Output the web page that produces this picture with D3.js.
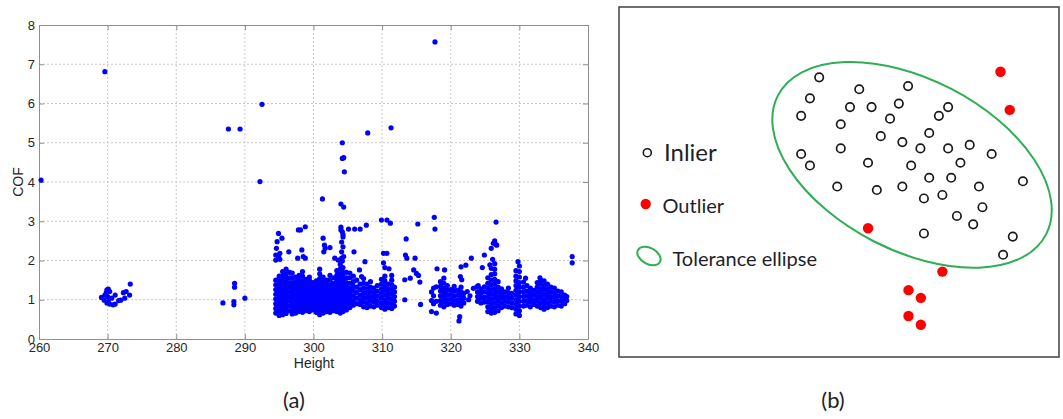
<!DOCTYPE html>
<html>
<head>
<meta charset="utf-8">
<script src="https://cdn.jsdelivr.net/npm/d3@7"></script>
<style>
  body { margin: 0; background: #fff; }
  svg { display: block; }
</style>
</head>
<body>
<svg id="chart" width="1063" height="419"></svg>
<script>
// ---------------- DATA ----------------
const xTicks = [260, 270, 280, 290, 300, 310, 320, 330, 340];
const yTicks = [0, 1, 2, 3, 4, 5, 6, 7, 8];
const xLabel = "Height";
const yLabel = "COF";

// isolated / sparse (Height, COF) readings
const sparsePoints = [
  [260.3,4.05],[269.6,6.81],[287.6,5.35],[289.3,5.35],[292.5,5.98],[292.2,4.01],
  [317.7,7.57],[311.3,5.38],[307.9,5.25],[304.2,5.0],[304.4,4.62],[304.2,4.6],[304.5,4.26],
  [301.3,3.57],[304.0,3.44],[304.4,3.36],
  [269.1,1.06],[269.6,1.12],[269.9,1.25],[270.1,1.27],[270.3,1.21],[269.8,1.18],[269.5,0.99],
  [270.1,0.95],[270.3,0.89],[270.8,0.87],[270.6,1.04],[271.1,1.12],[271.6,0.98],[271.1,0.89],
  [271.9,0.99],[272.3,1.18],[272.7,1.21],[272.5,1.04],[273.2,1.12],[273.3,1.40],[270.0,1.08],[269.9,0.92],
  [286.8,0.92],[288.5,1.42],[288.5,1.32],[288.4,0.95],[288.4,0.87],[290.0,1.04],
  [294.9,2.69],[295.4,2.57],[294.7,2.48],[294.6,2.31],[294.5,2.14],[294.9,2.11],[295.1,2.18],
  [294.5,2.01],[295.1,2.03],[296.4,2.22],[297.8,2.78],[298.8,2.86],[298.1,2.78],[298.3,2.27],
  [297.7,2.06],[298.5,2.10],[298.8,2.06],[301.4,2.57],[301.6,2.39],[301.7,2.31],[302.4,2.33],
  [301.5,2.22],[303.1,2.06],[303.6,2.01],[304.1,2.06],
  [304.0,2.85],[304.2,2.73],[304.3,2.60],[304.1,2.47],[304.3,2.35],[304.1,2.22],[304.4,2.10],
  [304.2,1.99],[304.0,2.78],[304.3,2.66],
  [305.1,2.80],[306.0,2.80],[306.8,2.80],[307.7,2.90],[307.5,1.97],[305.9,2.22],[306.7,1.76],[307.0,1.59],
  [309.9,3.03],[310.7,3.03],[311.2,2.95],[315.2,2.93],[317.6,3.10],[317.7,2.80],[326.6,2.98],
  [310.2,2.18],[310.7,2.18],[310.2,1.94],[310.4,1.82],[311.0,1.79],[313.5,2.55],[313.4,2.14],
  [313.6,2.06],[314.8,2.06],[314.6,1.76],[315.0,1.67],[315.3,1.62],[313.3,1.51],[314.1,1.55],
  [315.5,1.45],[313.3,1.00],[315.6,0.88],
  [318.0,1.79],[319.1,1.76],[321.5,1.84],[322.2,1.88],[323.0,2.06],[321.4,1.59],[321.6,1.51],
  [321.3,0.57],[321.2,0.46],[323.3,1.29],[324.0,1.36],[322.4,1.21],[322.8,1.10],[322.6,1.00],
  [324.9,2.14],[325.9,2.31],[326.2,2.44],[326.4,2.50],[326.7,2.39],[326.5,2.42],[326.1,2.03],
  [325.7,1.89],[324.6,1.82],[323.8,1.33],
  [329.8,1.97],[330.9,1.55],[337.7,2.10],[337.7,1.94],[336.9,1.08],[336.9,0.98],[333.0,1.56]
];

// dense band: each entry = [Height, [COF readings at that height]]
const denseColumns = [
  [294.5,[0.66,0.78,0.9,1.02,1.14,1.26,1.38,1.5]],
  [295.0,[0.6,0.7,0.8,0.9,1.0,1.1,1.2,1.3,1.4,1.5,1.6]],
  [295.5,[0.62,0.72,0.82,0.92,1.02,1.12,1.22,1.32,1.42,1.52,1.62,1.72]],
  [296.0,[0.65,0.75,0.85,0.95,1.05,1.15,1.25,1.35,1.45,1.55,1.66,1.78]],
  [296.5,[0.72,0.84,0.96,1.08,1.2,1.32,1.44,1.56,1.7]],
  [296.9,[0.64,0.74,0.84,0.94,1.04,1.14,1.24,1.34,1.44,1.56,1.68]],
  [297.4,[0.66,0.76,0.86,0.96,1.06,1.16,1.26,1.36,1.46,1.58]],
  [297.9,[0.7,0.8,0.9,1.0,1.1,1.2,1.3,1.4,1.5,1.62]],
  [298.4,[0.68,0.78,0.88,0.98,1.08,1.18,1.28,1.38,1.48,1.6,1.72]],
  [298.9,[0.72,0.82,0.92,1.02,1.12,1.22,1.32,1.42,1.52]],
  [299.4,[0.7,0.8,0.9,1.0,1.1,1.2,1.3,1.4,1.5,1.58]],
  [299.9,[0.74,0.84,0.94,1.04,1.14,1.24,1.34,1.44]],
  [300.4,[0.68,0.78,0.88,0.98,1.08,1.18,1.28,1.38,1.48]],
  [300.9,[0.62,0.72,0.82,0.92,1.02,1.12,1.22,1.32,1.42,1.54,1.66,1.78]],
  [301.4,[0.66,0.76,0.86,0.96,1.06,1.16,1.26,1.36,1.46,1.58]],
  [301.9,[0.7,0.8,0.9,1.0,1.1,1.2,1.3,1.4,1.5]],
  [302.4,[0.68,0.78,0.88,0.98,1.08,1.18,1.28,1.38,1.5,1.62]],
  [302.9,[0.72,0.82,0.92,1.02,1.12,1.22,1.32,1.42,1.56]],
  [303.4,[0.7,0.8,0.9,1.0,1.1,1.2,1.3,1.4,1.5,1.62,1.74]],
  [303.9,[0.66,0.76,0.86,0.96,1.06,1.16,1.26,1.36,1.46,1.56,1.66,1.78,1.9]],
  [304.3,[0.7,0.8,0.9,1.0,1.1,1.2,1.3,1.4,1.5,1.6,1.7,1.82]],
  [304.8,[0.74,0.84,0.94,1.04,1.14,1.24,1.34,1.44,1.56,1.7]],
  [305.3,[0.8,0.9,1.0,1.1,1.2,1.3,1.42,1.56,1.68]],
  [305.8,[0.86,0.98,1.1,1.22,1.34,1.46,1.6]],
  [306.3,[0.9,1.04,1.18,1.32,1.5]],
  [306.8,[0.88,1.0,1.12,1.26,1.4]],
  [307.3,[0.82,0.94,1.06,1.18,1.3,1.42,1.54]],
  [307.8,[0.8,0.92,1.04,1.16,1.28,1.4]],
  [308.3,[0.84,0.96,1.08,1.2,1.32,1.46]],
  [308.8,[0.82,0.94,1.06,1.18,1.3]],
  [309.3,[0.86,0.98,1.1,1.22,1.36]],
  [309.9,[0.8,0.92,1.04,1.16,1.28,1.4,1.52]],
  [310.4,[0.76,0.88,1.0,1.12,1.24,1.36,1.48,1.6]],
  [310.9,[0.8,0.92,1.04,1.16,1.28,1.4]],
  [311.4,[0.78,0.9,1.02,1.14,1.26,1.38,1.5,1.62]],
  [311.8,[0.84,0.96,1.08,1.2,1.32]],
  [317.2,[0.7,0.98,1.2]],
  [317.5,[0.9,1.1,1.3]],
  [317.9,[0.66,0.96,1.33]],
  [318.5,[0.86,0.98,1.1,1.22,1.34,1.46]],
  [319.0,[0.82,0.94,1.06,1.18,1.3,1.42,1.55]],
  [319.5,[0.88,1.0,1.12,1.24,1.36]],
  [320.0,[0.9,1.02,1.14,1.26]],
  [320.5,[0.86,0.98,1.1,1.22,1.34]],
  [321.0,[0.88,1.0,1.12,1.24]],
  [321.5,[0.84,0.96,1.08,1.2,1.32]],
  [321.9,[0.92,1.04,1.16]],
  [323.9,[0.96,1.08,1.2]],
  [324.4,[0.92,1.04,1.16,1.28]],
  [324.9,[0.94,1.06,1.2,1.33]],
  [325.4,[0.7,0.82,0.94,1.06,1.18,1.3,1.42,1.56]],
  [325.9,[0.66,0.78,0.9,1.02,1.14,1.26,1.38,1.5,1.64,1.8]],
  [326.4,[0.68,0.8,0.92,1.04,1.16,1.28,1.4,1.52,1.66,1.78,1.92]],
  [326.9,[0.72,0.84,0.96,1.08,1.2,1.32,1.46]],
  [327.4,[0.8,0.92,1.04,1.16,1.28]],
  [327.9,[0.84,0.96,1.08,1.2]],
  [328.4,[0.82,0.94,1.06,1.18,1.3]],
  [328.9,[0.8,0.92,1.04,1.16]],
  [329.5,[0.64,0.76,0.88,1.0,1.12,1.24,1.36,1.48,1.6,1.74]],
  [330.0,[0.6,0.72,0.84,0.96,1.08,1.2,1.32,1.44,1.58,1.72,1.86]],
  [330.6,[0.84,0.96,1.08,1.2,1.32,1.45]],
  [331.1,[0.86,0.98,1.1,1.22,1.36]],
  [331.6,[0.82,0.94,1.06,1.18,1.3]],
  [332.1,[0.88,1.0,1.12,1.24]],
  [332.6,[0.84,0.96,1.08,1.2,1.32,1.44]],
  [333.1,[0.8,0.92,1.04,1.16,1.28,1.4,1.5]],
  [333.6,[0.76,0.88,1.0,1.12,1.24,1.36,1.48]],
  [334.1,[0.8,0.92,1.04,1.16,1.28,1.4]],
  [334.6,[0.84,0.96,1.08,1.2,1.32]],
  [335.1,[0.82,0.94,1.06,1.18,1.3]],
  [335.6,[0.86,0.98,1.1,1.22]],
  [336.1,[0.84,0.96,1.08,1.2]],
  [336.6,[0.9,1.02,1.12]]
];

// panel (b): schematic positions in a 0-100 frame
const inliers = [
  [45.5,20.1],[54.6,23.5],[65.7,22.6],[43.4,26.1],[52.5,28.6],[57.4,28.6],[63.6,27.6],[74.8,28.6],
  [72.7,31.1],[41.4,31.1],[61.6,31.9],[50.4,33.5],[59.5,36.9],[70.5,36.0],[64.4,38.6],[68.5,40.4],
  [74.8,40.4],[79.7,39.4],[84.7,42.0],[50.4,40.4],[41.4,42.0],[43.4,45.3],[56.6,44.5],[66.4,45.3],
  [77.6,44.5],[70.5,48.8],[75.5,48.8],[91.8,49.8],[49.6,51.3],[58.6,52.3],[64.4,51.3],[81.8,51.3],
  [69.3,54.7],[73.5,53.7],[82.6,57.2],[76.8,59.7],[80.5,62.1],[69.3,64.7],[89.5,65.6],[87.3,70.8]
];
const outliers = [
  [86.7,18.5],[88.8,29.4],[56.6,63.2],[73.5,75.6],[65.8,80.9],[68.6,83.1],[65.8,88.3],[68.6,90.8]
];
const legendLabels = ["Inlier", "Outlier", "Tolerance ellipse"];
const panelCaptions = ["(a)", "(b)"];

// ---------------- DRAW ----------------
const svg = d3.select("#chart");
const allPoints = sparsePoints.concat(denseColumns.flatMap(([h, ys]) => ys.map(v => [h, v])));

const x = d3.scaleLinear().domain([260, 340]).range([39, 588]);
const y = d3.scaleLinear().domain([0, 8]).range([339, 25]);

const gA = svg.append("g");
const frameCol = "#8f8f8f";
const labelFont = "'Liberation Sans', Arial, sans-serif";

// grid
gA.append("g").selectAll("line").data(xTicks.slice(1, -1)).join("line")
  .attr("x1", d => x(d)).attr("x2", d => x(d)).attr("y1", y(0)).attr("y2", y(8))
  .attr("stroke", "#c9c9c9").attr("stroke-width", 1).attr("stroke-dasharray", "2,2");
gA.append("g").selectAll("line").data(yTicks.slice(1, -1)).join("line")
  .attr("y1", d => y(d)).attr("y2", d => y(d)).attr("x1", x(260)).attr("x2", x(340))
  .attr("stroke", "#c9c9c9").attr("stroke-width", 1).attr("stroke-dasharray", "2,2");

function styleAxis(g) {
  g.selectAll("path.domain").attr("stroke", frameCol);
  g.selectAll(".tick line").attr("stroke", frameCol);
  g.selectAll("text").attr("font-family", labelFont).attr("font-size", 13).attr("fill", "#262626");
}
gA.append("g").attr("transform", `translate(0,${y(0)})`)
  .call(d3.axisBottom(x).tickValues(xTicks).tickSize(-5).tickSizeOuter(0).tickPadding(4).tickFormat(d3.format("d")))
  .call(styleAxis);
gA.append("g").attr("transform", `translate(0,${y(8)})`)
  .call(d3.axisTop(x).tickValues(xTicks).tickSize(-5).tickSizeOuter(0).tickFormat(""))
  .call(styleAxis);
gA.append("g").attr("transform", `translate(${x(260)},0)`)
  .call(d3.axisLeft(y).tickValues(yTicks).tickSize(-5).tickSizeOuter(0).tickPadding(4).tickFormat(d3.format("d")))
  .call(styleAxis);
gA.append("g").attr("transform", `translate(${x(340)},0)`)
  .call(d3.axisRight(y).tickValues(yTicks).tickSize(-5).tickSizeOuter(0).tickFormat(""))
  .call(styleAxis);

// points
gA.append("g").selectAll("circle").data(allPoints).join("circle")
  .attr("cx", d => x(d[0])).attr("cy", d => y(d[1])).attr("r", 2.6)
  .attr("fill", "#0000ff");

// axis titles
gA.append("text").attr("x", 314).attr("y", 368).attr("text-anchor", "middle")
  .attr("font-family", labelFont).attr("font-size", 14).attr("fill", "#262626").text(xLabel);
gA.append("text").attr("transform", "translate(23,182) rotate(-90)").attr("text-anchor", "middle")
  .attr("font-family", labelFont).attr("font-size", 14).attr("fill", "#262626").text(yLabel);

const capFont = "Lato, 'Open Sans', sans-serif";
svg.append("text").attr("x", 294).attr("y", 408).attr("text-anchor", "middle")
  .attr("font-family", capFont).attr("font-size", 22).attr("fill", "#1e1e2a").text(panelCaptions[0]);
svg.append("text").attr("x", 833).attr("y", 408).attr("text-anchor", "middle")
  .attr("font-family", capFont).attr("font-size", 22).attr("fill", "#1e1e2a").text(panelCaptions[1]);

// ---------------- panel (b) ----------------
const xb = d3.scaleLinear().domain([0, 100]).range([619, 1059]);
const yb = d3.scaleLinear().domain([0, 100]).range([7, 357]);
const gB = svg.append("g");
gB.append("rect").attr("x", xb(0)).attr("y", yb(0)).attr("width", xb(100) - xb(0)).attr("height", yb(100) - yb(0))
  .attr("fill", "none").attr("stroke", "#404040").attr("stroke-width", 1.5);

const green = "#2fae55";
gB.append("ellipse").attr("transform", `translate(${xb(66.6)},${yb(45.1)}) rotate(27.4)`)
  .attr("rx", 151).attr("ry", 85.5).attr("fill", "none").attr("stroke", green).attr("stroke-width", 2);

gB.append("g").selectAll("circle").data(inliers).join("circle")
  .attr("cx", d => xb(d[0])).attr("cy", d => yb(d[1])).attr("r", 4.2)
  .attr("fill", "none").attr("stroke", "#1a1a1a").attr("stroke-width", 1.7);
gB.append("g").selectAll("circle").data(outliers).join("circle")
  .attr("cx", d => xb(d[0])).attr("cy", d => yb(d[1])).attr("r", 5.2)
  .attr("fill", "#ff0000");

// legend
const lg = gB.append("g");
lg.append("circle").attr("cx", 647.3).attr("cy", 152.7).attr("r", 4)
  .attr("fill", "none").attr("stroke", "#1a1a1a").attr("stroke-width", 1.6);
lg.append("text").attr("x", 664).attr("y", 161).attr("font-family", capFont).attr("font-size", 24)
  .attr("fill", "#1e1e2a").text(legendLabels[0]);
lg.append("circle").attr("cx", 645.7).attr("cy", 204).attr("r", 5.2).attr("fill", "#ff0000");
lg.append("text").attr("x", 662.5).attr("y", 212.5).attr("font-family", capFont).attr("font-size", 20)
  .attr("fill", "#1e1e2a").text(legendLabels[1]);
lg.append("ellipse").attr("transform", "translate(649,256) rotate(28)").attr("rx", 12.5).attr("ry", 8)
  .attr("fill", "none").attr("stroke", green).attr("stroke-width", 2);
lg.append("text").attr("x", 672.5).attr("y", 266).attr("font-family", capFont).attr("font-size", 20)
  .attr("fill", "#1e1e2a").text(legendLabels[2]);
</script>
</body>
</html>
